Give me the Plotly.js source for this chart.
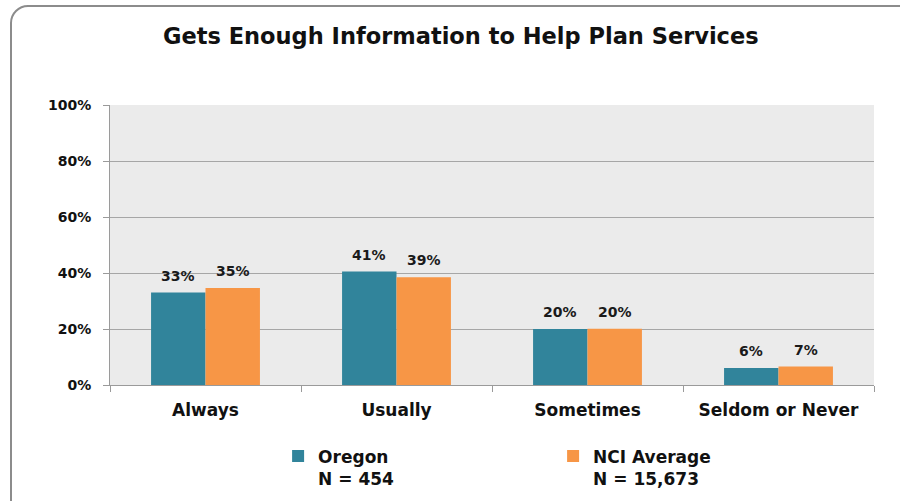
<!DOCTYPE html>
<html>
<head>
<meta charset="utf-8">
<script src="https://cdn.plot.ly/plotly-3.0.1.min.js"></script>
<style>
  body { margin: 0; overflow: hidden; background: #fff; }
  #wrap { position: relative; width: 900px; height: 501px; overflow: hidden; }
  #frame { position: absolute; left: 10px; top: 5px; width: 910px; height: 520px;
           border: 2px solid #8c8c8c; border-radius: 18px; pointer-events: none; }
  #chart { position: absolute; left: 0; top: 0; }
</style>
</head>
<body>
<div id="wrap">
  <div id="chart"></div>
  <div id="frame"></div>
</div>
<script>
// data
var categories = ['Always', 'Usually', 'Sometimes', 'Seldom or Never'];
var oregon = [33.0, 40.5, 20.0, 6.1];
var nciAvg = [34.6, 38.5, 20.1, 6.6];
var seriesNames = ['Oregon<br>N = 454', 'NCI Average<br>N = 15,673'];
var yTicks = [0, 20, 40, 60, 80, 100];

var fontFam = 'DejaVu Sans, sans-serif';
var teal = '#31849b';
var orange = '#f79646';

var trace1 = {
    x: categories, y: oregon,
    type: 'bar',
    name: seriesNames[0],
    marker: {color: teal}
};
var trace2 = {
    x: categories, y: nciAvg,
    type: 'bar',
    name: seriesNames[1],
    marker: {color: orange}
};

// value labels above bars
var annots = [];
var offs = 27.3;
for (let i = 0; i < categories.length; i++) {
    annots.push({
        x: categories[i], y: oregon[i], xref: 'x', yref: 'y',
        text: Math.round(oregon[i]) + '%', showarrow: false,
        xshift: -offs, yshift: 7, yanchor: 'bottom',
        font: {family: fontFam, size: 14, color: '#1a1a1a', weight: 'bold'}
    });
    annots.push({
        x: categories[i], y: nciAvg[i], xref: 'x', yref: 'y',
        text: Math.round(nciAvg[i]) + '%', showarrow: false,
        xshift: offs, yshift: 7, yanchor: 'bottom',
        font: {family: fontFam, size: 14, color: '#1a1a1a', weight: 'bold'}
    });
}

var layout = {
    width: 900,
    height: 501,
    margin: {l: 110, r: 26, t: 105, b: 116},
    paper_bgcolor: '#ffffff',
    plot_bgcolor: '#ebebeb',
    barmode: 'group',
    bargap: 0.43,
    bargroupgap: 0,
    title: {
        text: 'Gets Enough Information to Help Plan Services',
        font: {family: fontFam, size: 22.5, color: '#111', weight: 'bold'},
        x: 0.512, xanchor: 'center',
        y: 0.928, yanchor: 'middle', yref: 'container'
    },
    xaxis: {
        showline: true, linecolor: '#9a9a9a', linewidth: 1,
        ticks: 'outside', tickson: 'boundaries', ticklen: 6, tickcolor: '#9a9a9a',
        tickfont: {family: fontFam, size: 17, color: '#111', weight: 'bold'},
        ticklabelstandoff: 10
    },
    yaxis: {
        range: [0, 100],
        tickvals: yTicks,
        ticktext: yTicks.map(function(v) { return v + '%'; }),
        showline: true, linecolor: '#9a9a9a', linewidth: 1,
        ticks: 'outside', ticklen: 6, tickcolor: '#9a9a9a',
        gridcolor: '#a6a6a6', gridwidth: 1,
        zeroline: false,
        ticklabelstandoff: 9,
        tickfont: {family: fontFam, size: 14, color: '#111', weight: 'bold'}
    },
    showlegend: true,
    legend: {
        orientation: 'h',
        xref: 'container', yref: 'container',
        x: 0.309, xanchor: 'left',
        y: 0.125, yanchor: 'top',
        valign: 'top',
        entrywidth: 230, entrywidthmode: 'pixels',
        font: {family: fontFam, size: 17, color: '#111', weight: 'bold'},
        bgcolor: 'rgba(0,0,0,0)'
    },
    annotations: annots
};

Plotly.newPlot('chart', [trace1, trace2], layout, {displayModeBar: false, staticPlot: true});
</script>
</body>
</html>
